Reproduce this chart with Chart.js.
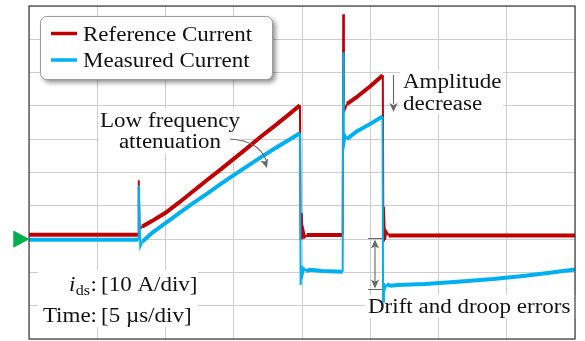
<!DOCTYPE html>
<html><head><meta charset="utf-8">
<script src="https://cdn.jsdelivr.net/npm/chart.js@4/dist/chart.umd.min.js"></script>
<style>html,body{margin:0;padding:0;background:#fff;}#wrap{width:585px;height:341px;position:relative;}</style>
</head><body><div id="wrap"><canvas id="c" width="585" height="341"></canvas></div>
<script>
// ---- data (time in µs, current in A) ----
const seriesNames = ['Reference Current', 'Measured Current'];
const refTime = [0, 8.0, 8.04, 8.1, 8.3, 9, 10, 11, 12, 13, 14, 15, 16, 17, 18, 19, 19.85, 19.9, 19.98, 20.05, 20.12, 20.22, 20.35, 22.98, 23.02, 23.07, 23.13, 23.3, 24, 25, 25.92, 25.96, 26.0, 26.08, 26.18, 26.35, 40];
const refCurrent = [1.3, 1.3, 17.7, 3.0, 3.8, 5.4, 7.9, 11.0, 14.3, 17.6, 20.8, 24.1, 27.4, 30.8, 34.0, 37.3, 40.2, -0.3, 7.8, 0.0, 2.5, 0.6, 1.2, 1.2, 67.5, 40.0, 38.8, 40.6, 42.6, 45.9, 49.2, -0.5, 9.7, -0.2, 2.3, 1.1, 1.1];
const measTime = [0, 8.0, 8.04, 8.15, 8.3, 9, 10, 11, 12, 13, 14, 15, 16, 17, 18, 19, 19.85, 19.9, 19.97, 20.05, 20.15, 20.3, 20.6, 21.5, 22.98, 23.02, 23.06, 23.1, 23.18, 23.28, 24, 25, 25.9, 25.94, 26.0, 26.07, 26.2, 26.5, 27, 29, 31.4, 34, 36.2, 38, 40];
const measCurrent = [-0.2, -0.2, 16.2, -2.3, -0.8, 1.8, 4.8, 7.8, 10.7, 13.5, 16.4, 19.2, 21.9, 24.6, 27.2, 29.7, 31.8, -13.8, -8.0, -10.6, -8.8, -9.6, -9.2, -9.6, -9.8, 56.0, 30.2, 28.8, 31.0, 30.0, 32.3, 34.6, 36.8, -18.8, -13.2, -15.0, -13.6, -14.0, -13.8, -13.5, -12.8, -12.0, -11.1, -10.2, -9.1];
const xTickValues = [0, 5, 10, 15, 20, 25, 30, 35, 40];
const yTickValues = [-30, -20, -10, 0, 10, 20, 30, 40, 50, 60, 70];
const scaleLabels = ['i', 'ds', ':', '[10 A/div]', 'Time:', '[5 µs/div]'];

const RED = '#c00000', BLUE = '#00b0f0', GRAY = '#666666';
const FAM = '"Liberation Serif", "Times New Roman", serif';
const SX = 1.15; // horizontal stretch to mimic Computer Modern proportions

function pts(t, v) { return t.map((x, i) => ({x: x, y: v[i]})); }
const segW = ctx => (Math.abs(ctx.p1.x - ctx.p0.x) < 3 ? 2 : 4);

function txt(ctx, s, x, y, align, font) {
  ctx.save();
  ctx.font = font || ('20px ' + FAM);
  ctx.translate(x, y); ctx.scale(SX, 1);
  ctx.textAlign = align; ctx.textBaseline = 'alphabetic';
  ctx.fillText(s, 0, 0);
  ctx.restore();
}
function tw(ctx, s, font) {
  ctx.save(); ctx.font = font || ('20px ' + FAM);
  const w = ctx.measureText(s).width * SX; ctx.restore(); return w;
}

function arrowHead(ctx, x, y, ang, len, wid) {
  ctx.save();
  ctx.translate(x, y); ctx.rotate(ang);
  ctx.beginPath();
  ctx.moveTo(0, 0);
  ctx.lineTo(-len, -wid / 2);
  ctx.lineTo(-len * 0.75, 0);
  ctx.lineTo(-len, wid / 2);
  ctx.closePath();
  ctx.fill();
  ctx.restore();
}

const decor = {
  id: 'decor',
  beforeDatasetsDraw(chart) {
    const ctx = chart.ctx;
    ctx.save();
    const bg = (x1, y1, x2, y2) => { ctx.fillStyle = '#fff'; ctx.fillRect(x1, y1, x2 - x1, y2 - y1); };
    bg(99, 108, 241, 153);
    bg(400, 70, 503, 114);
    bg(365, 295, 576, 318);
    bg(38, 270, 198, 327);
    ctx.fillStyle = '#111';
    txt(ctx, 'Low frequency', 170, 127, 'center');
    txt(ctx, 'attenuation', 170, 148, 'center');
    txt(ctx, 'Amplitude', 403, 88, 'left');
    txt(ctx, 'decrease', 403, 110, 'left');
    txt(ctx, 'Drift and droop errors', 368, 312.5, 'left');
    // scale labels, aligned on the colon
    const colonX = 97;
    txt(ctx, scaleLabels[4], colonX, 321.5, 'right');
    txt(ctx, scaleLabels[2], colonX, 290.5, 'right');
    const wColon = tw(ctx, ':');
    const subFont = '14px ' + FAM;
    const wSub = tw(ctx, scaleLabels[1], subFont);
    txt(ctx, scaleLabels[1], colonX - wColon - 0.5, 294.5, 'right', subFont);
    txt(ctx, scaleLabels[0], colonX - wColon - wSub - 1, 290.5, 'right', 'italic 20px ' + FAM);
    txt(ctx, scaleLabels[3], 101, 290.5, 'left');
    txt(ctx, scaleLabels[5], 101, 321.5, 'left');
    ctx.restore();
  },
  afterDraw(chart) {
    const ctx = chart.ctx;
    const a = chart.chartArea;
    ctx.save();
    // plot frame
    ctx.strokeStyle = '#3a3a3a'; ctx.lineWidth = 1.2;
    ctx.strokeRect(a.left, a.top, a.right - a.left, a.bottom - a.top);
    // arrows
    ctx.strokeStyle = GRAY; ctx.fillStyle = GRAY; ctx.lineWidth = 1.1;
    ctx.beginPath(); ctx.moveTo(230, 139); ctx.quadraticCurveTo(259, 141, 266, 160); ctx.stroke();
    arrowHead(ctx, 267, 168, Math.atan2(22, 7), 9, 8);
    ctx.beginPath(); ctx.moveTo(393.5, 75); ctx.lineTo(393.5, 104); ctx.stroke();
    arrowHead(ctx, 393.5, 112, Math.PI / 2, 9, 8);
    ctx.beginPath();
    ctx.moveTo(368, 238.5); ctx.lineTo(382, 238.5);
    ctx.moveTo(368, 289.5); ctx.lineTo(382, 289.5);
    ctx.moveTo(375, 244); ctx.lineTo(375, 284);
    ctx.stroke();
    arrowHead(ctx, 375, 239.5, -Math.PI / 2, 9, 8);
    arrowHead(ctx, 375, 288.5, Math.PI / 2, 9, 8);
    // zero marker
    const y0 = chart.scales.y.getPixelForValue(0);
    ctx.fillStyle = '#00b050';
    ctx.beginPath();
    ctx.moveTo(14, y0 - 7.5); ctx.lineTo(28, y0); ctx.lineTo(14, y0 + 7.5); ctx.closePath();
    ctx.lineJoin = 'round'; ctx.strokeStyle = '#00b050'; ctx.lineWidth = 1.5;
    ctx.fill(); ctx.stroke();
    // legend
    const lx = 40.5, ly = 16.5, lw = 232, lh = 63, r = 6;
    ctx.save();
    ctx.shadowColor = 'rgba(0,0,0,0.45)'; ctx.shadowBlur = 5; ctx.shadowOffsetX = 3; ctx.shadowOffsetY = 3;
    ctx.beginPath(); ctx.roundRect(lx, ly, lw, lh, r); ctx.fillStyle = '#fff'; ctx.fill();
    ctx.restore();
    ctx.beginPath(); ctx.roundRect(lx, ly, lw, lh, r); ctx.strokeStyle = '#9a9a9a'; ctx.lineWidth = 1; ctx.stroke();
    ctx.lineWidth = 3.5; ctx.lineCap = 'butt';
    ctx.strokeStyle = RED; ctx.beginPath(); ctx.moveTo(51, 33.5); ctx.lineTo(77, 33.5); ctx.stroke();
    ctx.strokeStyle = BLUE; ctx.beginPath(); ctx.moveTo(51, 60); ctx.lineTo(77, 60); ctx.stroke();
    ctx.fillStyle = '#111';
    txt(ctx, seriesNames[0], 83, 40.5, 'left');
    txt(ctx, seriesNames[1], 83, 66.5, 'left');
    ctx.restore();
  }
};

new Chart(document.getElementById('c'), {
  type: 'line',
  data: {
    datasets: [
      { label: seriesNames[0], data: pts(refTime, refCurrent), borderColor: RED, borderWidth: 4, order: 1,
        pointRadius: 0, tension: 0, fill: false, segment: { borderWidth: segW } },
      { label: seriesNames[1], data: pts(measTime, measCurrent), borderColor: BLUE, borderWidth: 4, order: 0,
        pointRadius: 0, tension: 0, fill: false, segment: { borderWidth: segW } }
    ]
  },
  options: {
    responsive: false, animation: false, devicePixelRatio: 1,
    layout: { padding: { left: 29, top: 6, right: 10, bottom: 2 } },
    plugins: { legend: { display: false }, tooltip: { enabled: false } },
    scales: {
      x: { type: 'linear', min: 0, max: 40,
        afterBuildTicks: s => { s.ticks = xTickValues.map(v => ({value: v})); },
        ticks: { display: false }, border: { display: false },
        grid: { color: '#cdcdcd', lineWidth: 1, drawTicks: false } },
      y: { type: 'linear', min: -30, max: 70,
        afterBuildTicks: s => { s.ticks = yTickValues.map(v => ({value: v})); },
        ticks: { display: false }, border: { display: false },
        grid: { color: '#cdcdcd', lineWidth: 1, drawTicks: false } }
    }
  },
  plugins: [decor]
});
</script></body></html>
